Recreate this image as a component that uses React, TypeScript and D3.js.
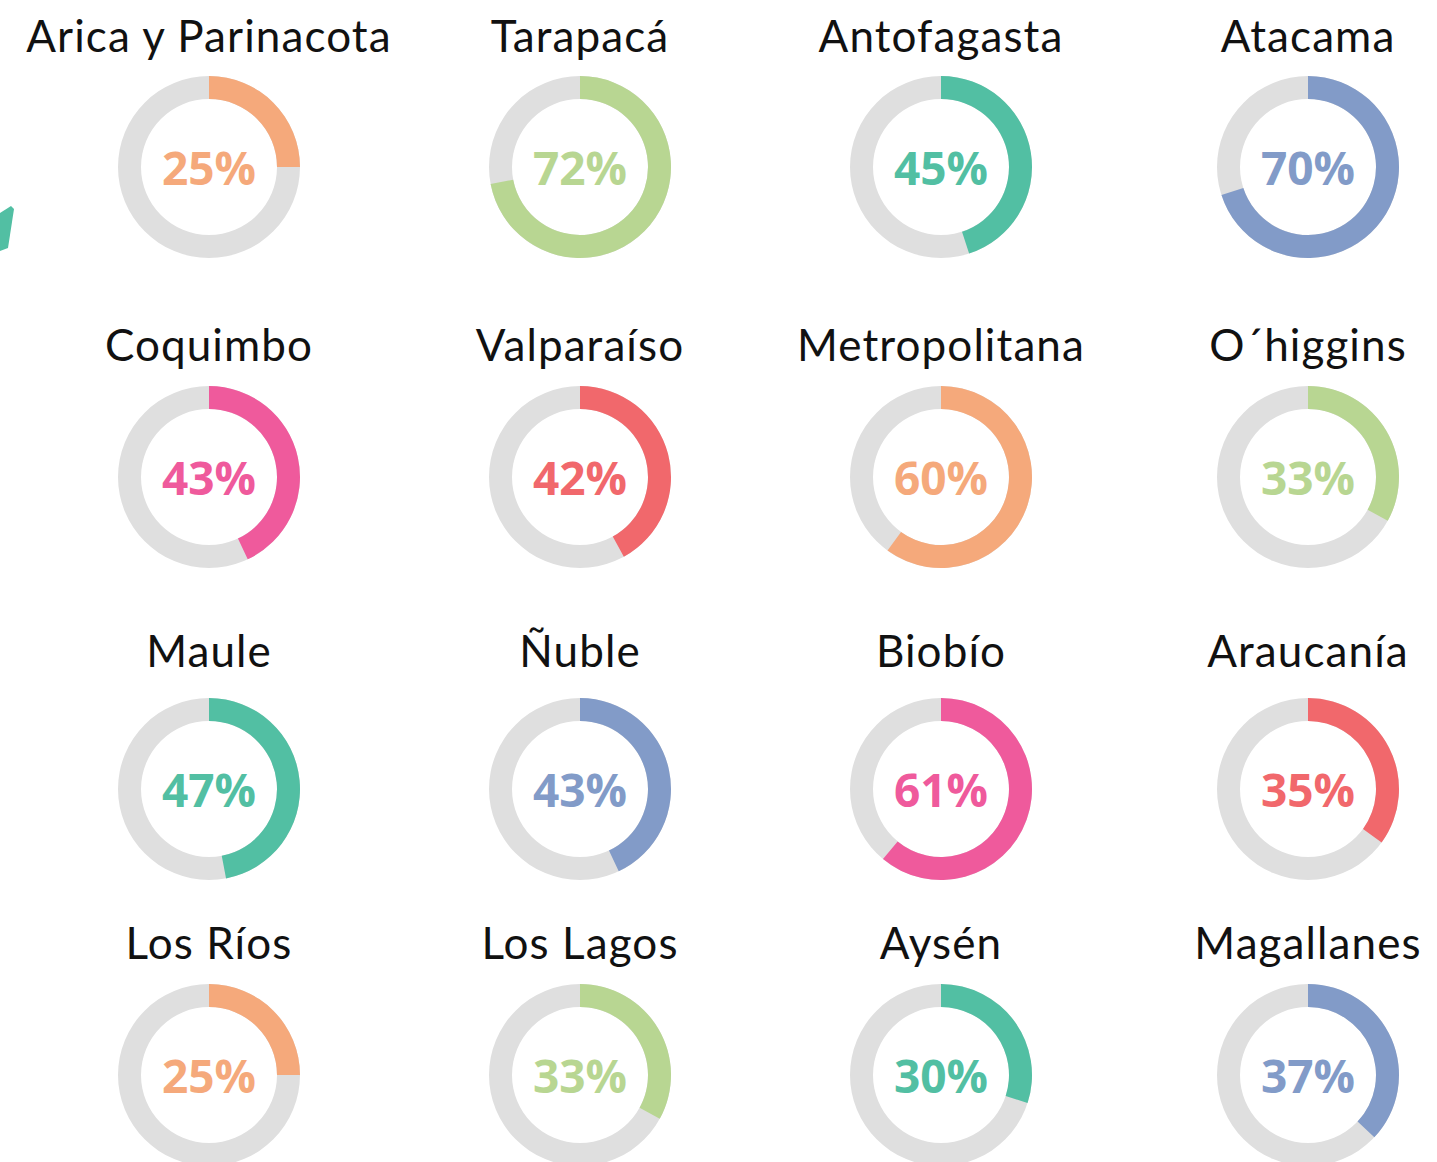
import React from "react";
import * as d3 from "d3";

const regions = [
  "Arica y Parinacota", "Tarapacá", "Antofagasta", "Atacama",
  "Coquimbo", "Valparaíso", "Metropolitana", "O´higgins",
  "Maule", "Ñuble", "Biobío", "Araucanía",
  "Los Ríos", "Los Lagos", "Aysén", "Magallanes",
];
const values = [25, 72, 45, 70, 43, 42, 60, 33, 47, 43, 61, 35, 25, 33, 30, 37];
const colors = [
  "#f5a97b", "#b8d692", "#52bfa3", "#829bc8",
  "#ef5a9c", "#f1686c", "#f5a97b", "#b8d692",
  "#52bfa3", "#829bc8", "#ef5a9c", "#f1686c",
  "#f5a97b", "#b8d692", "#52bfa3", "#829bc8",
];
const colCenters = [209, 580, 941, 1308];
const rowCenters = [167, 477, 789, 1075];
const titleBaselines = [52, 361, 667, 959];

const W = 1437;
const H = 1162;
const R = 91;
const r = 68;

export default function App() {
  const angle = d3.scaleLinear().domain([0, 100]).range([0, 2 * Math.PI]);
  const arc = d3.arc<any>().innerRadius(r).outerRadius(R);
  return (
    <svg width={W} height={H} style={{ position: "absolute", left: 0, top: 0 }}>
      <rect width={W} height={H} fill="#fff" />
      <path d="M0,213 L11,206 L14,209 L8,248 L0,251 Z" fill="#52bfa3" />
      {regions.map((name, i) => {
        const cx = colCenters[i % 4];
        const cy = rowCenters[Math.floor(i / 4)];
        const ty = titleBaselines[Math.floor(i / 4)];
        const bg = arc({ startAngle: 0, endAngle: 2 * Math.PI }) as string;
        const fg = arc({ startAngle: 0, endAngle: angle(values[i]) }) as string;
        return (
          <g key={name}>
            <text
              x={cx}
              y={ty}
              textAnchor="middle"
              fontFamily="Lato, sans-serif"
              fontWeight={400}
              fontSize={44}
              letterSpacing={1.1}
              fill="#111"
            >
              {name}
            </text>
            <g transform={`translate(${cx},${cy})`}>
              <path d={bg} fill="#dfdfdf" />
              <path d={fg} fill={colors[i]} />
              <text
                y={18}
                textAnchor="middle"
                fontFamily="'Open Sans', sans-serif"
                fontWeight={700}
                fontSize={46}
                fill={colors[i]}
              >
                {values[i]}%
              </text>
            </g>
          </g>
        );
      })}
    </svg>
  );
}
